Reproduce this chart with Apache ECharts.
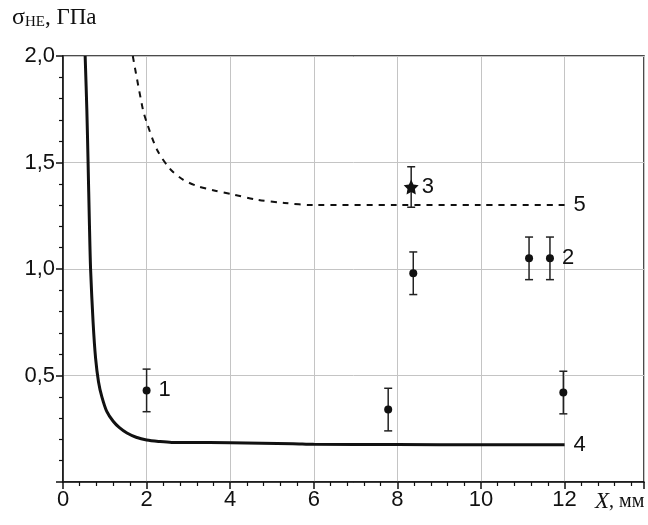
<!DOCTYPE html>
<html>
<head>
<meta charset="utf-8">
<script src="https://cdn.jsdelivr.net/npm/echarts@6/dist/echarts.min.js"></script>
<style>
  html, body { margin: 0; padding: 0; background: #fff; }
  #main { width: 648px; height: 525px; }
</style>
</head>
<body>
<div id="main"></div>
<script>
// curve 4 (solid)
let curve4X = [0.53, 0.57, 0.6, 0.63, 0.66, 0.72, 0.78, 0.85, 0.93, 1.05, 1.2, 1.35, 1.53, 1.75, 2.0, 2.3, 2.6, 3.0, 4.0, 5.5, 6.0, 8.0, 10.0, 12.0];
let curve4Y = [2.0, 1.75, 1.5, 1.23, 1.0, 0.75, 0.58, 0.47, 0.40, 0.33, 0.285, 0.255, 0.23, 0.21, 0.197, 0.19, 0.186, 0.186, 0.184, 0.18, 0.177, 0.176, 0.175, 0.175];
// curve 5 (dashed)
let curve5X = [1.67, 1.91, 2.0, 2.25, 2.56, 2.87, 3.2, 3.59, 4.07, 4.64, 5.3, 6.0, 8.0, 10.0, 12.0];
let curve5Y = [2.0, 1.75, 1.69, 1.56, 1.47, 1.42, 1.39, 1.37, 1.35, 1.325, 1.31, 1.30, 1.30, 1.30, 1.30];
// measured points with error bars
let pointX = [2.0, 7.78, 8.38, 11.15, 11.65, 11.97];
let pointY = [0.43, 0.34, 0.98, 1.05, 1.05, 0.42];
let pointErr = [0.1, 0.1, 0.1, 0.1, 0.1, 0.1];
let pointLabels = ["1", "", "", "", "2", ""];
let starX = [8.33];
let starY = [1.385];
let starErr = [0.095];
let starLabels = ["3"];
// axes
let xTicks = [0, 2, 4, 6, 8, 10, 12];
let yTicks = [0.5, 1.0, 1.5, 2.0];

let myChart = echarts.init(document.getElementById("main"));

let sans = "Liberation Sans";
let serif = "Liberation Serif";

function zip(xs, ys) {
  let out = [];
  for (let i = 0; i < xs.length; i++) out.push([xs[i], ys[i]]);
  return out;
}

let errData = [];
for (let i = 0; i < pointX.length; i++) errData.push([pointX[i], pointY[i], pointErr[i]]);
for (let i = 0; i < starX.length; i++) errData.push([starX[i], starY[i], starErr[i]]);

let pointData = [];
for (let i = 0; i < pointX.length; i++) {
  pointData.push({
    value: [pointX[i], pointY[i]],
    label: { show: pointLabels[i] !== "", formatter: pointLabels[i] },
  });
}
let starData = [];
for (let i = 0; i < starX.length; i++) {
  starData.push({
    value: [starX[i], starY[i]],
    label: { show: true, formatter: starLabels[i] },
  });
}

function renderErr(params, api) {
  let x = api.value(0);
  let y = api.value(1);
  let e = api.value(2);
  let top = api.coord([x, y + e]);
  let bot = api.coord([x, y - e]);
  let w = 4;
  let style = { stroke: "#222", lineWidth: 1.5 };
  return {
    type: "group",
    children: [
      { type: "line", shape: { x1: top[0], y1: top[1], x2: bot[0], y2: bot[1] }, style: style },
      { type: "line", shape: { x1: top[0] - w, y1: top[1], x2: top[0] + w, y2: top[1] }, style: style },
      { type: "line", shape: { x1: bot[0] - w, y1: bot[1], x2: bot[0] + w, y2: bot[1] }, style: style },
    ],
  };
}

let option = {
  animation: false,
  backgroundColor: "#fff",
  grid: {
    left: 63,
    right: 4,
    top: 56,
    bottom: 43,
    show: true,
    borderColor: "#111",
    borderWidth: 1.5,
  },
  xAxis: {
    type: "value",
    min: 0,
    max: 13.9,
    interval: 2,
    axisLine: { show: true, onZero: false, lineStyle: { color: "#111", width: 1.5 } },
    axisTick: { show: true, inside: false, length: 7, lineStyle: { color: "#111", width: 1.5 } },
    minorTick: { show: true, splitNumber: 5, length: 4, lineStyle: { color: "#111", width: 1.2 } },
    splitLine: { show: true, lineStyle: { color: "#c4c4c4", width: 1 } },
    axisLabel: {
      color: "#111",
      fontFamily: sans,
      fontSize: 22,
      margin: 7,
      showMaxLabel: false,
      formatter: function (v) {
        return xTicks.indexOf(v) >= 0 ? String(v) : "";
      },
    },
  },
  yAxis: {
    type: "value",
    min: 0,
    max: 2,
    interval: 0.5,
    axisLine: { show: true, onZero: false, lineStyle: { color: "#111", width: 1.5 } },
    axisTick: { show: true, inside: false, length: 7, lineStyle: { color: "#111", width: 1.5 } },
    minorTick: { show: true, splitNumber: 5, length: 4, lineStyle: { color: "#111", width: 1.2 } },
    splitLine: { show: true, lineStyle: { color: "#c4c4c4", width: 1 } },
    axisLabel: {
      color: "#111",
      fontFamily: sans,
      fontSize: 22,
      margin: 8,
      formatter: function (v) {
        return yTicks.indexOf(v) >= 0 ? v.toFixed(1).replace(".", ",") : "";
      },
    },
  },
  graphic: [
    {
      type: "text",
      left: 12,
      top: 6,
      style: {
        text: "{s|σ}{sub|HE}{t|, ГПа}",
        rich: {
          s: { fontFamily: serif, fontSize: 24, fill: "#111" },
          sub: { fontFamily: serif, fontSize: 15, fill: "#111", padding: [9, 0, 0, 0] },
          t: { fontFamily: serif, fontSize: 23, fill: "#111" },
        },
      },
    },
    {
      type: "text",
      left: 595,
      top: 490,
      style: {
        text: "{x|X}{t|, мм}",
        rich: {
          x: { fontFamily: serif, fontStyle: "italic", fontSize: 23, fill: "#111" },
          t: { fontFamily: serif, fontSize: 20, fill: "#111" },
        },
      },
    },
  ],
  series: [
    {
      type: "line",
      name: "4",
      data: zip(curve4X, curve4Y),
      showSymbol: false,
      smooth: 0.3,
      lineStyle: { color: "#111", width: 3 },
      endLabel: { show: true, formatter: "4", color: "#111", fontFamily: sans, fontSize: 22, distance: 9 },
      z: 3,
    },
    {
      type: "line",
      name: "5",
      data: zip(curve5X, curve5Y),
      showSymbol: false,
      smooth: 0.3,
      lineStyle: { color: "#111", width: 2, type: [6, 6] },
      endLabel: { show: true, formatter: "5", color: "#111", fontFamily: sans, fontSize: 22, distance: 9 },
      z: 3,
    },
    {
      type: "custom",
      renderItem: renderErr,
      data: errData,
      encode: { x: 0, y: 1 },
      z: 4,
    },
    {
      type: "scatter",
      data: pointData,
      symbol: "circle",
      symbolSize: 8,
      itemStyle: { color: "#111", opacity: 1 },
      label: { position: "right", distance: 8, color: "#111", fontFamily: sans, fontSize: 22 },
      z: 5,
    },
    {
      type: "scatter",
      data: starData,
      symbol: "path://M0,-10L2.9,-4L9.5,-3.1L4.7,1.5L5.9,8.1L0,5L-5.9,8.1L-4.7,1.5L-9.5,-3.1L-2.9,-4Z",
      symbolSize: 15,
      itemStyle: { color: "#111", opacity: 1 },
      label: { position: "right", distance: 3, color: "#111", fontFamily: sans, fontSize: 22 },
      z: 5,
    },
  ],
};

myChart.setOption(option);
</script>
</body>
</html>
